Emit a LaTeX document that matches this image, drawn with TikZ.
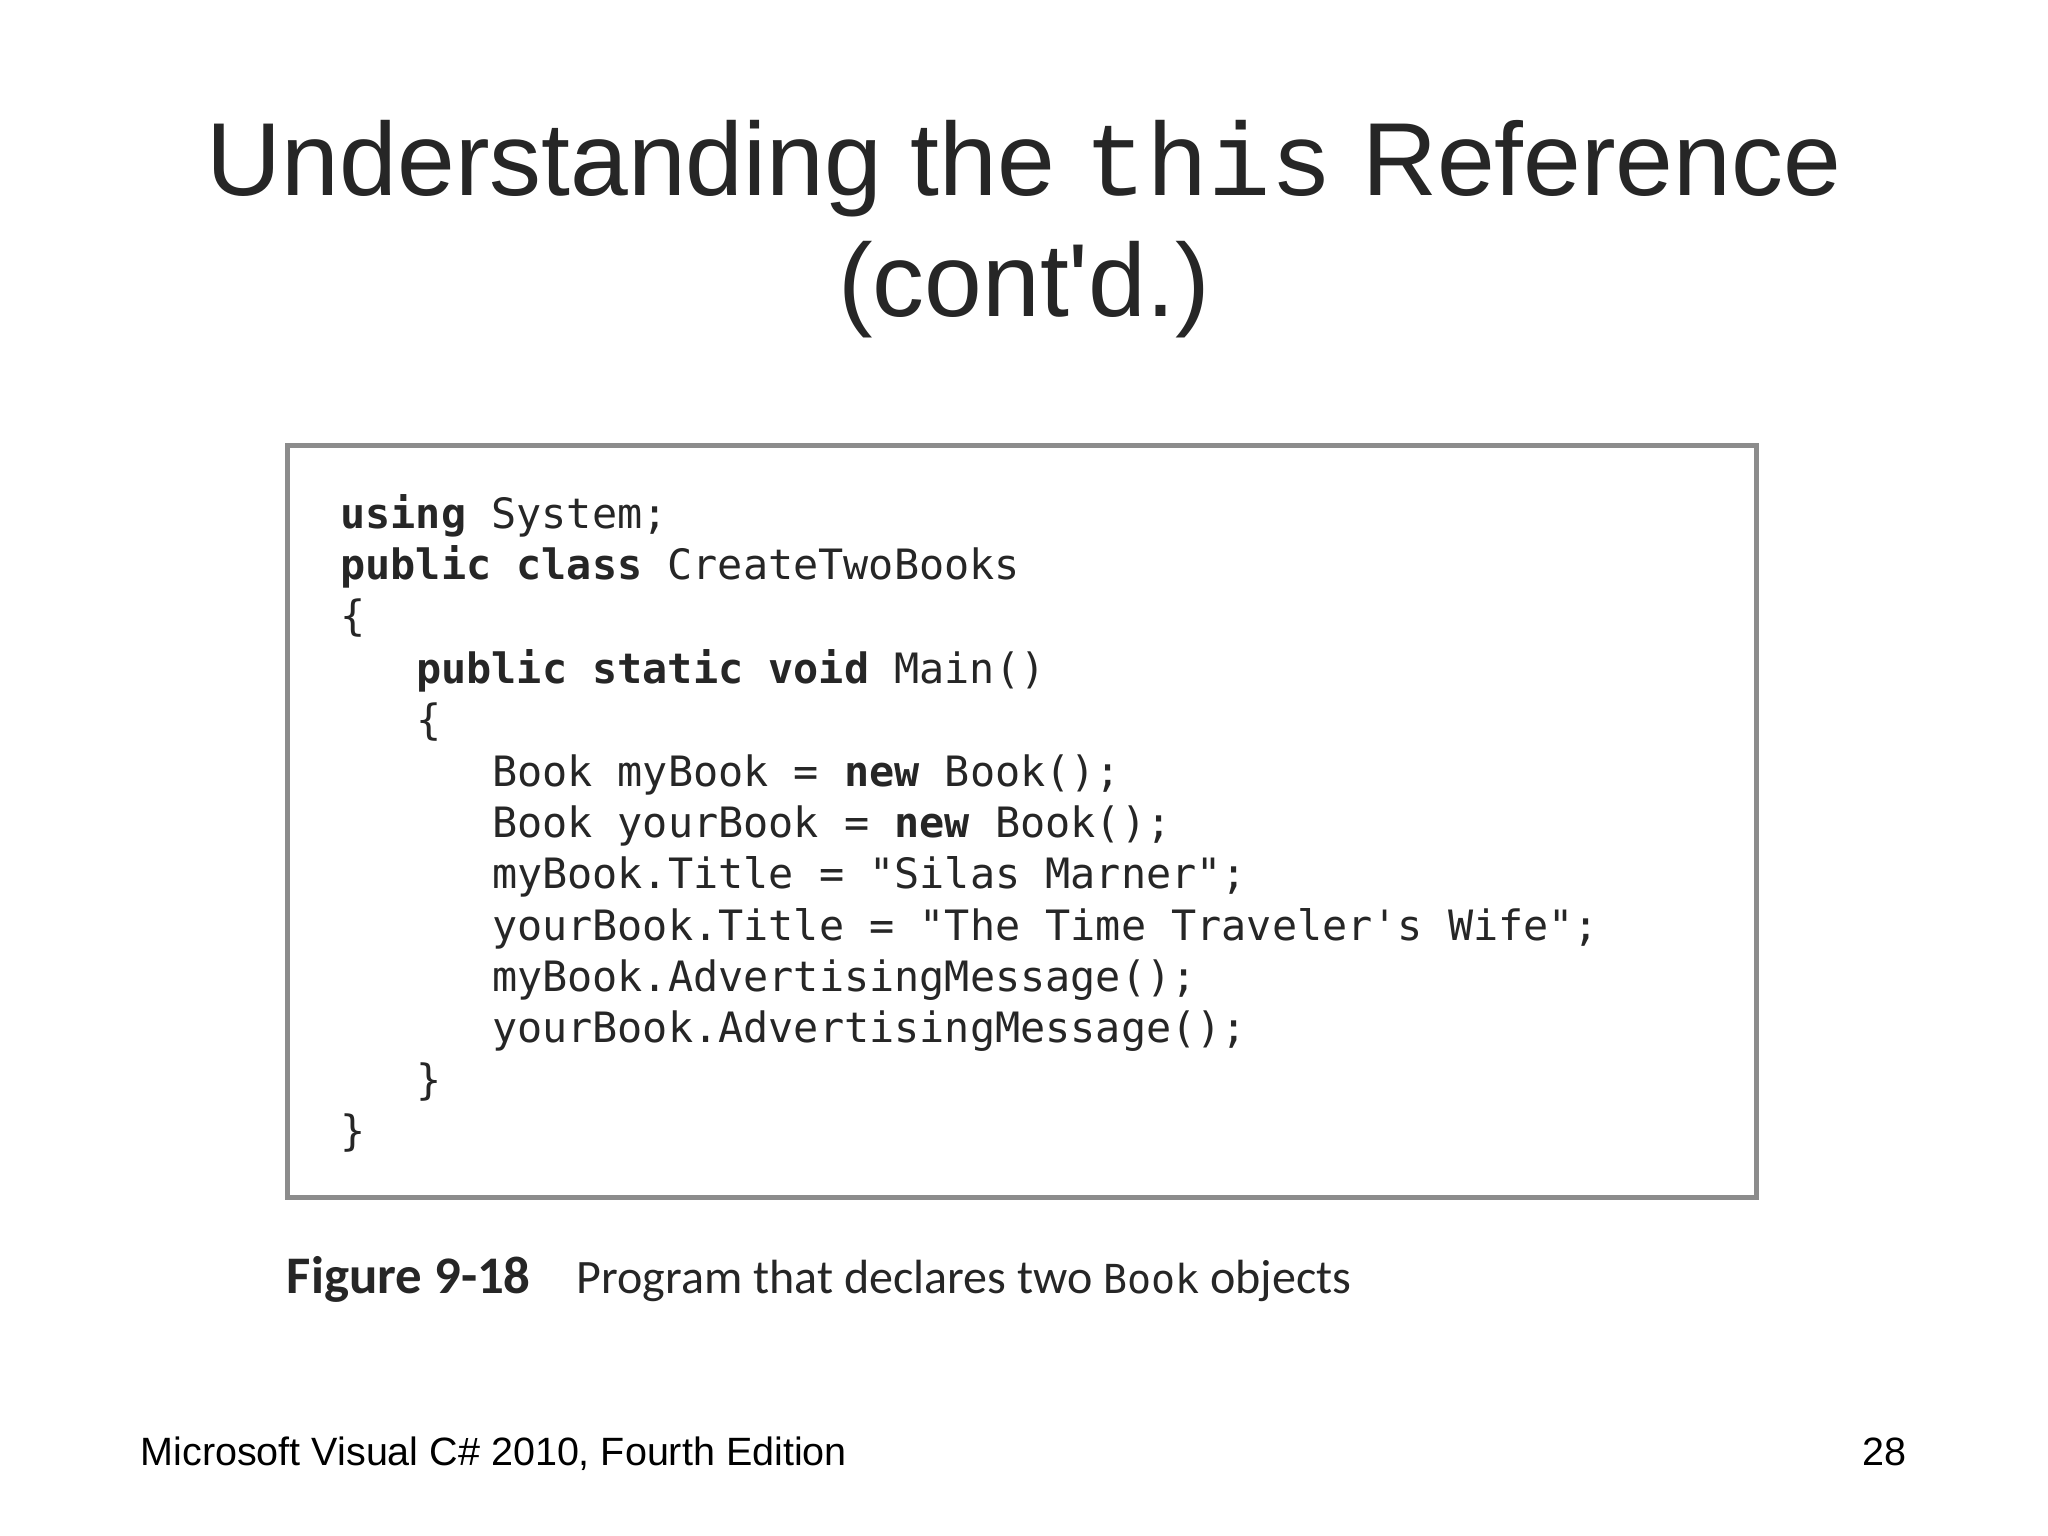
\documentclass[tikz,border=0pt]{standalone}
\usepackage{fontspec}
\setmainfont{Liberation Sans}
\setmonofont{DejaVu Sans Mono}
\newfontfamily\capfont{Carlito}
\newfontfamily\titlemono{Liberation Mono}
\begin{document}
\begin{tikzpicture}[x=0.01cm,y=-0.01cm,
  code/.style={anchor=base west,inner sep=0pt,font=\ttfamily\fontsize{9.1}{11}\selectfont,text=black!85},
  foot/.style={inner sep=0pt,font=\fontsize{8.6}{10}\selectfont}]
\useasboundingbox (0,0) rectangle (1568,1176);
\fill[white] (0,0) rectangle (1568,1176);
\node[inner sep=0pt,anchor=base,font=\fontsize{22.6}{27}\selectfont,text=black!85] (t1) at (784,150) {Understanding the {\titlemono this} Reference};
\node[inner sep=0pt,anchor=base,font=\fontsize{22.6}{27}\selectfont,text=black!85] (t2) at (784,242) {(cont\XeTeXglyph\XeTeXcharglyph"0027 d.)};
\draw[line width=1.1pt,draw=black!45] (220,341) rectangle (1345,917);
\node[code] (l1) at (260,405) {\textbf{using} System;};
\node[code] (l2) at (260,444) {\textbf{public class} CreateTwoBooks};
\node[code] (l3) at (260,483) {\{};
\node[code] (l4) at (318,523) {\textbf{public static void} Main()};
\node[code] (l5) at (318,562) {\{};
\node[code] (l6) at (376,602) {Book myBook = \textbf{new} Book();};
\node[code] (l7) at (376,641) {Book yourBook = \textbf{new} Book();};
\node[code] (l8) at (376,680) {myBook.Title = "Silas Marner";};
\node[code] (l9) at (376,720) {yourBook.Title = "The Time Traveler's Wife";};
\node[code] (l10) at (376,759) {myBook.AdvertisingMessage();};
\node[code] (l11) at (376,798) {yourBook.AdvertisingMessage();};
\node[code] (l12) at (318,838) {\}};
\node[code] (l13) at (260,877) {\}};
\node[inner sep=0pt,anchor=base west,font=\capfont\fontsize{11.5}{13}\selectfont,text=black!85] (cap) at (219,990) {\textbf{Figure 9-18}\hspace{10pt}{\fontsize{10.45}{13}\selectfont Program that declares two {\ttfamily\fontsize{8.7}{11}\selectfont Book} objects}};
\node[foot,anchor=base west] (f1) at (107,1122) {Microsoft Visual C\# 2010, Fourth Edition};
\node[foot,anchor=base east] (f2) at (1460,1122) {28};
\end{tikzpicture}
\end{document}
